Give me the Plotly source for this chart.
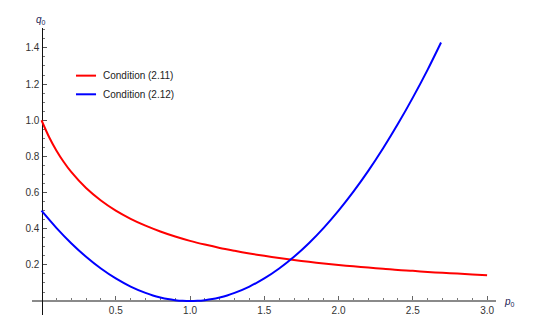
import plotly.graph_objects as go

p_red = [0.0, 0.05, 0.1, 0.15, 0.2, 0.3, 0.4, 0.5, 0.6, 0.7, 0.8, 0.9, 1.0, 1.1, 1.2, 1.3, 1.4, 1.5,
         1.6, 1.7, 1.8, 1.9, 2.0, 2.1, 2.2, 2.3, 2.4, 2.5, 2.6, 2.7, 2.8, 2.9, 3.0]
q_red = [1.0, 0.909, 0.833, 0.769, 0.714, 0.625, 0.556, 0.5, 0.455, 0.417, 0.385, 0.357, 0.333,
         0.3125, 0.294, 0.278, 0.263, 0.25, 0.238, 0.227, 0.217, 0.208, 0.2, 0.192, 0.185,
         0.179, 0.172, 0.167, 0.161, 0.156, 0.152, 0.147, 0.143]

p_blue = [0.0, 0.1, 0.2, 0.3, 0.4, 0.5, 0.6, 0.7, 0.75, 0.8, 0.85, 0.9, 0.95, 1.0, 1.05, 1.1,
          1.15, 1.2, 1.25, 1.3, 1.4, 1.5, 1.6, 1.7, 1.8, 1.9, 2.0, 2.1, 2.2, 2.3, 2.4, 2.5,
          2.6, 2.69]
q_blue = [0.5, 0.405, 0.32, 0.245, 0.18, 0.125, 0.08, 0.045, 0.031, 0.02, 0.011, 0.005, 0.0013,
          0.0, 0.0013, 0.005, 0.011, 0.02, 0.031, 0.045, 0.08, 0.125, 0.18, 0.245, 0.32, 0.405,
          0.5, 0.605, 0.72, 0.845, 0.98, 1.125, 1.28, 1.43]

series_names = ["Condition (2.11)", "Condition (2.12)"]
series_colors = ["#ff0000", "#0000ff"]

x_ticks = [0.5, 1.0, 1.5, 2.0, 2.5, 3.0]
x_labels = ["0.5", "1.0", "1.5", "2.0", "2.5", "3.0"]
y_ticks = [0.2, 0.4, 0.6, 0.8, 1.0, 1.2, 1.4]
y_labels = ["0.2", "0.4", "0.6", "0.8", "1.0", "1.2", "1.4"]

x_range = [-0.064, 3.06]
y_range = [-0.077, 1.51]

font = "Liberation Sans, Arial, sans-serif"

fig = go.Figure()
fig.add_trace(go.Scatter(x=p_red, y=q_red, mode="lines", name=series_names[0],
                         line=dict(color=series_colors[0], width=2, shape="spline", smoothing=0.8)))
fig.add_trace(go.Scatter(x=p_blue, y=q_blue, mode="lines", name=series_names[1],
                         line=dict(color=series_colors[1], width=2, shape="spline", smoothing=0.8)))

tickfont = dict(family=font, size=10, color="#333333")

# page body has an 8px default margin, so the figure is 8px smaller and margins shifted
fig.update_layout(
    width=528, height=310,
    margin=dict(l=24, r=40, t=20, b=3, autoexpand=False),
    paper_bgcolor="white", plot_bgcolor="white",
    showlegend=False,
    xaxis=dict(range=x_range, tickvals=x_ticks, ticktext=x_labels,
               anchor="free", position=(0 - y_range[0]) / (y_range[1] - y_range[0]),
               showgrid=False, zeroline=False, showline=True, linecolor="#8a8a8a",
               linewidth=1.6, ticks="inside", ticklen=4, tickcolor="#666666",
               automargin=False, tickfont=tickfont, layer="below traces",
               minor=dict(ticks="inside", ticklen=2, tickcolor="#777777",
                          tickvals=[round(0.1 * i, 1) for i in range(1, 31)])),
    yaxis=dict(range=y_range, tickvals=y_ticks, ticktext=y_labels,
               anchor="free", position=(0 - x_range[0]) / (x_range[1] - x_range[0]),
               showgrid=False, zeroline=False, showline=True, linecolor="#111111",
               linewidth=1.2, ticks="inside", ticklen=4, tickcolor="#555555",
               automargin=False, tickfont=tickfont, layer="below traces",
               minor=dict(ticks="inside", ticklen=2, tickcolor="#777777",
                          tickvals=[round(0.05 * i, 2) for i in range(1, 31)])),
)

# manual legend (short line swatches as in the reference)
legend_y = [0.834, 0.769]
for name, color, ly in zip(series_names, series_colors, legend_y):
    fig.add_shape(type="line", xref="paper", yref="paper", x0=0.0948, x1=0.138,
                  y0=ly, y1=ly, line=dict(color=color, width=2))
    fig.add_annotation(text=name, xref="paper", yref="paper", x=0.1495, y=ly,
                       xanchor="left", yanchor="middle", showarrow=False,
                       font=dict(family=font, size=10, color="#222222"))

fig.add_annotation(text="<i>q</i><sub>0</sub>", xref="paper", yref="paper", x=0.02, y=1.0,
                   xanchor="center", yanchor="bottom", showarrow=False,
                   font=dict(family=font, size=10, color="#1a1a55"))
fig.add_annotation(text="<i>p</i><sub>0</sub>", xref="paper", yref="paper", x=1.012, y=0.045,
                   xanchor="left", yanchor="middle", showarrow=False,
                   font=dict(family=font, size=10, color="#1a1a55"))

fig.write_html("out.html")
